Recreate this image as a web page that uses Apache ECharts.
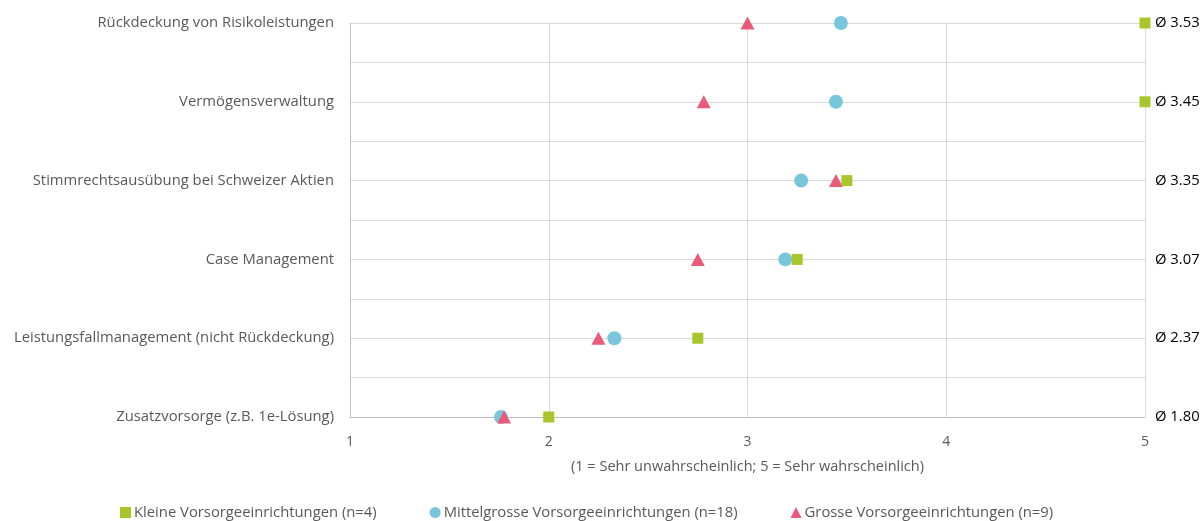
<!DOCTYPE html>
<html>
<head>
<meta charset="utf-8">
<script src="https://cdn.jsdelivr.net/npm/echarts@6/dist/echarts.min.js"></script>
<style>
html,body{margin:0;padding:0;background:#fff;}
#chart{width:1201px;height:521px;}
</style>
</head>
<body>
<div id="chart"></div>
<script>
// categories from top to bottom
const categories = [
  'Rückdeckung von Risikoleistungen',
  'Vermögensverwaltung',
  'Stimmrechtsausübung bei Schweizer Aktien',
  'Case Management',
  'Leistungsfallmanagement (nicht Rückdeckung)',
  'Zusatzvorsorge (z.B. 1e-Lösung)'
];
const averages = ['3.53', '3.45', '3.35', '3.07', '2.37', '1.80'];
const seriesNames = [
  'Kleine Vorsorgeeinrichtungen (n=4)',
  'Mittelgrosse Vorsorgeeinrichtungen (n=18)',
  'Grosse Vorsorgeeinrichtungen (n=9)'
];
const kleine = [5.0, 5.0, 3.50, 3.25, 2.75, 2.0];
const mittel = [3.47, 3.445, 3.27, 3.19, 2.33, 1.76];
const gross  = [3.0, 2.78, 3.445, 2.75, 2.25, 1.775];
const xTicks = [1, 2, 3, 4, 5];

const n = categories.length;
function pts(arr){ return arr.map((v,i)=>[v, n-1-i]); }
function catAt(val){
  const r = Math.round(val);
  if (Math.abs(val - r) > 1e-6) return null;
  return n-1-r;
}
const FONT = '"Open Sans", "Noto Sans", sans-serif';
const grey = '#595959';

const chart = echarts.init(document.getElementById('chart'), null, {renderer:'canvas'});
chart.setOption({
  animation:false,
  textStyle:{fontFamily:FONT},
  grid:{left:350, right:56, top:23, bottom:104, containLabel:false, outerBoundsMode:'none'},
  xAxis:{
    type:'value', min:xTicks[0], max:xTicks[xTicks.length-1], interval:1,
    name:'(1 = Sehr unwahrscheinlich; 5 = Sehr wahrscheinlich)',
    nameLocation:'middle', nameGap:42,
    nameTextStyle:{color:grey, fontSize:14.5, fontFamily:FONT},
    axisLine:{show:true, lineStyle:{color:'#bfbfbf', width:1}},
    axisTick:{show:false},
    axisLabel:{color:grey, fontSize:14, margin:18, fontFamily:FONT},
    splitLine:{show:true, lineStyle:{color:'#d9d9d9', width:1}}
  },
  yAxis:[{
    type:'value', min:0, max:n-1, interval:0.5, position:'left',
    axisLine:{show:true, lineStyle:{color:'#bfbfbf', width:1}},
    axisTick:{show:false},
    axisLabel:{color:grey, fontSize:14.8, margin:16, fontFamily:FONT,
      formatter:function(v){ const i = catAt(v); return i===null ? '' : categories[i]; }},
    splitLine:{show:true, lineStyle:{color:'#d9d9d9', width:1}}
  },{
    type:'value', min:0, max:n-1, interval:0.5, position:'right',
    axisLine:{show:false}, axisTick:{show:false},
    axisLabel:{color:'#000', fontSize:14.8, margin:10, fontFamily:FONT,
      formatter:function(v){ const i = catAt(v); return i===null ? '' : 'Ø ' + averages[i]; }},
    splitLine:{show:false}
  }],
  legend:{
    bottom:-4, left:115, itemGap:53, itemWidth:11, itemHeight:11,
    textStyle:{color:grey, fontSize:14.8, fontFamily:FONT, padding:[0,0,0,-2]},
    data:[
      {name:seriesNames[0], icon:'rect'},
      {name:seriesNames[1], icon:'circle'},
      {name:seriesNames[2], icon:'triangle'}
    ]
  },
  series:[
    {name:seriesNames[0], type:'scatter', symbol:'rect', symbolSize:11,
     itemStyle:{color:'#a8c62b', opacity:1}, data:pts(kleine), z:3},
    {name:seriesNames[1], type:'scatter', symbol:'circle', symbolSize:14,
     itemStyle:{color:'#78c6dc', opacity:1}, data:pts(mittel), z:2},
    {name:seriesNames[2], type:'scatter', symbol:'triangle', symbolSize:[14,13],
     itemStyle:{color:'#ea5a7b', opacity:1}, data:pts(gross), z:2}
  ]
});
</script>
</body>
</html>
